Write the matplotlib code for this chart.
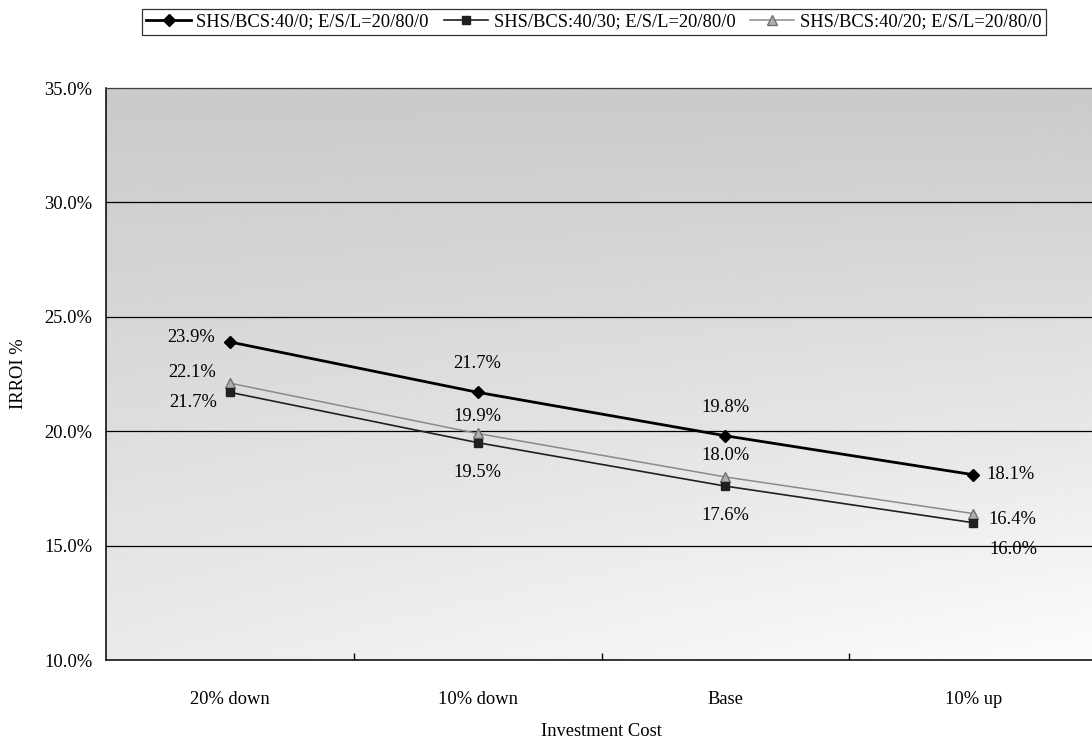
import numpy as np
import matplotlib.pyplot as plt

# investment cost scenarios and IRROI results (%)
cases = ['20% down', '10% down', 'Base', '10% up']
irroi_40_0 = [23.9, 21.7, 19.8, 18.1]
irroi_40_30 = [21.7, 19.5, 17.6, 16.0]
irroi_40_20 = [22.1, 19.9, 18.0, 16.4]

names = ['SHS/BCS:40/0; E/S/L=20/80/0',
         'SHS/BCS:40/30; E/S/L=20/80/0',
         'SHS/BCS:40/20; E/S/L=20/80/0']

plt.rcParams['font.family'] = ['Liberation Serif', 'DejaVu Serif']
plt.rcParams['font.size'] = 13.3

fig = plt.figure(figsize=(10.92, 7.42), dpi=100)
ax = fig.add_axes([0.0971, 0.1105, 0.9075, 0.7709])

x = np.arange(len(cases))
ax.set_xlim(-0.5, 3.5)
ax.set_ylim(10, 35)

# shaded plot background, darker at the top left
gy, gx = np.mgrid[0:1:200j, 0:1:200j]
shade = 0.79 + 0.13 * gy + 0.07 * gx * gy
ax.imshow(shade, extent=[-0.5, 3.5, 10, 35], aspect='auto', cmap='gray',
          vmin=0, vmax=1, origin='upper', zorder=0, interpolation='bilinear')

for yv in [15, 20, 25, 30]:
    ax.axhline(yv, color='black', lw=0.9, zorder=1)

l1, = ax.plot(x, irroi_40_0, color='black', lw=2, marker='D', ms=6.5, zorder=4)
l2, = ax.plot(x, irroi_40_30, color='#202020', lw=1.2, marker='s', ms=6, zorder=3)
l3, = ax.plot(x, irroi_40_20, color='#8a8a8a', lw=1.1, marker='^', ms=6.5,
              markerfacecolor='#b0b0b0', markeredgecolor='#707070', zorder=2)

# value labels: (dx, dy) in pixels plus alignment
pos1 = [(-15, 4, 'right'), (0, 29, 'center'), (0, 28, 'center'), (13, 0, 'left')]
pos3 = [(-14, 11, 'right'), (0, 17, 'center'), (0, 21, 'center'), (15, -6, 'left')]
pos2 = [(-13, -10, 'right'), (0, -30, 'center'), (0, -29, 'center'), (16, -27, 'left')]

for vals, pos in [(irroi_40_0, pos1), (irroi_40_20, pos3), (irroi_40_30, pos2)]:
    for xi, v, (dx, dy, ha) in zip(x, vals, pos):
        ax.annotate(f'{v:.1f}%', (xi, v), xytext=(dx, dy), textcoords='offset pixels',
                    ha=ha, va='center', fontsize=13.3, zorder=5)

ax.set_xticks(x)
ax.set_xticklabels(cases)
ax.set_xticks([0.5, 1.5, 2.5], minor=True)
ax.tick_params(axis='x', which='major', length=0, pad=22)
ax.tick_params(axis='x', which='minor', direction='in', length=5, width=1)
ax.set_yticks([10, 15, 20, 25, 30, 35])
ax.set_yticklabels([f'{t:.1f}%' for t in [10, 15, 20, 25, 30, 35]])
ax.tick_params(axis='y', length=0, pad=10)

ax.set_xlabel('Investment Cost', labelpad=11)
ax.set_ylabel('IRROI %', labelpad=12)

for side in ['left', 'bottom']:
    ax.spines[side].set_color('black')
    ax.spines[side].set_linewidth(1.1)
ax.spines['top'].set_color('#404040')
ax.spines['top'].set_linewidth(0.9)
ax.spines['right'].set_visible(False)

leg = fig.legend([l1, l2, l3], names, ncol=3, loc='center',
                 bbox_to_anchor=(594 / 1092, 1 - 22 / 742), frameon=True,
                 fancybox=False, edgecolor='black', fontsize=13.3,
                 handlelength=2.4, handletextpad=0.3, columnspacing=0.8,
                 borderpad=0.25, borderaxespad=0)
leg.get_frame().set_linewidth(0.9)

fig.savefig('out.png', dpi=100)
